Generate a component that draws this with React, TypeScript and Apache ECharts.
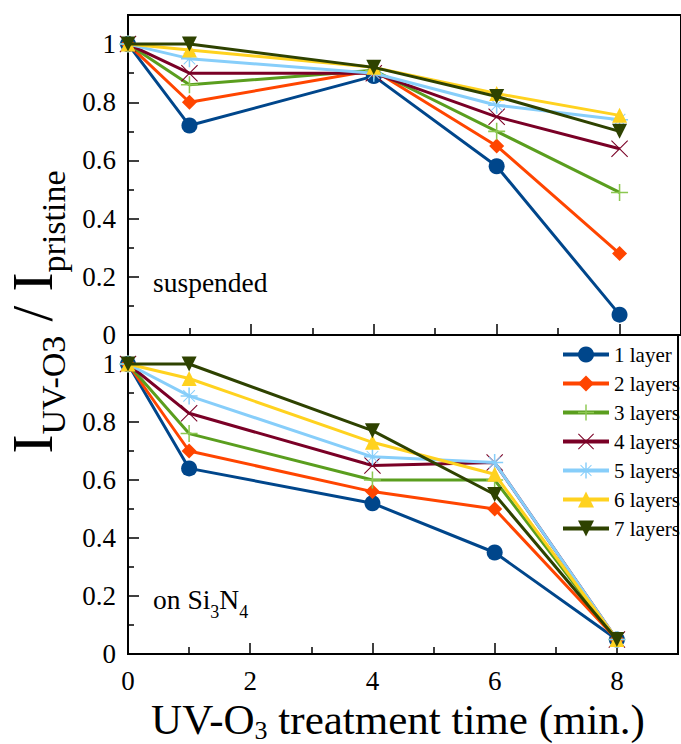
import React, { useEffect, useRef } from "react";
import * as echarts from "echarts";

const timeMin = [0, 1, 4, 6, 8];
const layerNames = ["1 layer", "2 layers", "3 layers", "4 layers", "5 layers", "6 layers", "7 layers"];

const suspended1 = [1.0, 0.72, 0.89, 0.58, 0.07];
const suspended2 = [1.0, 0.8, 0.91, 0.65, 0.28];
const suspended3 = [1.0, 0.86, 0.91, 0.7, 0.49];
const suspended4 = [1.0, 0.9, 0.9, 0.75, 0.64];
const suspended5 = [1.0, 0.95, 0.9, 0.79, 0.74];
const suspended6 = [1.0, 0.98, 0.92, 0.83, 0.755];
const suspended7 = [1.0, 1.0, 0.92, 0.82, 0.7];

const onSiN1 = [1.0, 0.64, 0.52, 0.35, 0.05];
const onSiN2 = [1.0, 0.7, 0.56, 0.5, 0.05];
const onSiN3 = [1.0, 0.76, 0.6, 0.6, 0.05];
const onSiN4 = [1.0, 0.83, 0.65, 0.66, 0.05];
const onSiN5 = [1.0, 0.89, 0.68, 0.66, 0.05];
const onSiN6 = [1.0, 0.95, 0.73, 0.62, 0.05];
const onSiN7 = [1.0, 1.0, 0.77, 0.55, 0.05];

const suspendedSeries = [suspended1, suspended2, suspended3, suspended4, suspended5, suspended6, suspended7];
const onSiNSeries = [onSiN1, onSiN2, onSiN3, onSiN4, onSiN5, onSiN6, onSiN7];

const lineColors = ["#00468b", "#ff4500", "#5a9e1e", "#7a0026", "#87cefa", "#ffd21f", "#2e4200"];
const markColors = ["#00468b", "#ff4500", "#8cc850", "#7a0026", "#87cefa", "#ffd21f", "#2e4200"];

const PLUS = "M-1,-0.09L1,-0.09L1,0.09L-1,0.09Z M-0.09,-1L0.09,-1L0.09,1L-0.09,1Z";
const CROSS = "M-1,-0.91L-0.91,-1L1,0.91L0.91,1Z M0.91,-1L1,-0.91L-0.91,1L-1,0.91Z";
const STAR =
  PLUS +
  " M-0.72,-0.64L-0.64,-0.72L0.72,0.64L0.64,0.72Z M0.64,-0.72L0.72,-0.64L-0.64,0.72L-0.72,0.64Z";

const symbols = ["circle", "diamond", "path://" + PLUS, "path://" + CROSS, "path://" + STAR, "triangle", "triangle"];
const symbolSizes = [16, 15, 17, 17, 17, 15, 15];
const symbolRotates = [0, 0, 0, 0, 0, 0, 180];

const FONT = "Liberation Serif";

export default function App() {
  const ref = useRef<HTMLDivElement>(null);
  useEffect(() => {
    if (!ref.current) return;
    const chart = echarts.init(ref.current, undefined, { renderer: "svg" });

    const makeSeries = (panel: number, sets: number[][]) =>
      sets.map((vals, i) => ({
        name: layerNames[i],
        type: "line",
        xAxisIndex: panel,
        yAxisIndex: panel,
        data: timeMin.map((t, j) => [t, vals[j]]),
        symbol: symbols[i],
        symbolSize: symbolSizes[i],
        symbolRotate: symbolRotates[i],
        clip: false,
        z: 2 + i,
        lineStyle: { color: lineColors[i], width: 3 },
        itemStyle: { color: markColors[i], borderWidth: 0 },
        emphasis: { disabled: true },
      }));

    const tickRich = { a: { fontFamily: FONT, fontSize: 27, color: "#000", lineHeight: 24 } };

    const yAxisBase = (grid: number) => ({
      type: "value",
      gridIndex: grid,
      min: 0,
      max: 1.1,
      interval: 0.2,
      axisLine: { show: true, lineStyle: { color: "#000", width: 2 } },
      axisTick: { show: true, inside: true, length: 11, lineStyle: { color: "#000", width: 1.5 } },
      minorTick: { show: true, splitNumber: 2, length: 6, lineStyle: { color: "#000", width: 1.5 } },
      splitLine: { show: false },
      axisLabel: {
        margin: 12,
        rich: tickRich,
        formatter: (v: number) => (v > 1.05 ? "" : "{a|" + String(Math.round(v * 10) / 10) + "}"),
      },
    });

    const xAxisBase = (grid: number, showLabel: boolean) => ({
      type: "value",
      gridIndex: grid,
      min: 0,
      max: 9,
      interval: 2,
      axisLine: { show: true, lineStyle: { color: "#000", width: 2 } },
      axisTick: { show: true, inside: true, length: 11, lineStyle: { color: "#000", width: 1.5 } },
      minorTick: { show: true, splitNumber: 2, length: 7, lineStyle: { color: "#000", width: 1.5 } },
      splitLine: { show: false },
      axisLabel: {
        show: showLabel,
        margin: 15,
        rich: tickRich,
        formatter: (v: number) => (v > 8.5 ? "" : "{a|" + String(v) + "}"),
      },
    });

    chart.setOption({
      animation: false,
      backgroundColor: "#fff",
      grid: [
        { left: 128, top: 15, width: 558, height: 320, show: true, borderColor: "#000", borderWidth: 2, backgroundColor: "transparent" },
        { left: 128, top: 335, width: 558, height: 319, show: true, borderColor: "#000", borderWidth: 2, backgroundColor: "transparent" },
      ],
      xAxis: [xAxisBase(0, false), xAxisBase(1, true)],
      yAxis: [yAxisBase(0), yAxisBase(1)],
      legend: {
        data: layerNames,
        orient: "vertical",
        left: 556,
        top: 339,
        itemWidth: 46,
        itemHeight: 20,
        itemGap: 8,
        itemTextGap: 11,
        selectedMode: false,
        lineStyle: { width: 4 },
        formatter: (name: string) => "{a|" + name + "}",
        textStyle: {
          rich: { a: { fontFamily: FONT, fontSize: 21, color: "#000", lineHeight: 22 } },
        },
      },
      graphic: [
        {
          type: "text",
          x: 33,
          y: 312,
          rotation: Math.PI / 2,
          style: {
            text: "{m|I}{s|UV-O3}{m| / I}{s|pristine}",
            align: "center",
            verticalAlign: "middle",
            fill: "#000",
            rich: {
              m: { fontFamily: FONT, fontSize: 57, lineHeight: 58, verticalAlign: "top", fill: "#000" },
              s: { fontFamily: FONT, fontSize: 34, lineHeight: 34, padding: [32, 0, 0, 0], verticalAlign: "top", fill: "#000" },
            },
          },
        },
        {
          type: "text",
          x: 398,
          y: 698,
          style: {
            text: "{m|UV-O}{s|3}{m| treatment time (min.)}",
            align: "center",
            verticalAlign: "top",
            fill: "#000",
            rich: {
              m: { fontFamily: FONT, fontSize: 43, lineHeight: 38, verticalAlign: "top", fill: "#000" },
              s: { fontFamily: FONT, fontSize: 26, lineHeight: 24, padding: [19, 0, 0, 0], verticalAlign: "top", fill: "#000" },
            },
          },
        },
        {
          type: "text",
          x: 153,
          y: 268,
          style: {
            text: "{m|suspended}",
            verticalAlign: "top",
            fill: "#000",
            rich: { m: { fontFamily: FONT, fontSize: 27.5, lineHeight: 29, verticalAlign: "top", fill: "#000" } },
          },
        },
        {
          type: "text",
          x: 153,
          y: 585,
          style: {
            text: "{m|on Si}{s|3}{m|N}{s|4}",
            verticalAlign: "top",
            fill: "#000",
            rich: {
              m: { fontFamily: FONT, fontSize: 27.5, lineHeight: 29, verticalAlign: "top", fill: "#000" },
              s: { fontFamily: FONT, fontSize: 18, lineHeight: 18, padding: [18, 0, 0, 0], verticalAlign: "top", fill: "#000" },
            },
          },
        },
      ],
      series: [...makeSeries(0, suspendedSeries), ...makeSeries(1, onSiNSeries)],
    });
    return () => chart.dispose();
  }, []);
  return <div ref={ref} style={{ position: "fixed", left: 0, top: 0, width: 681, height: 744 }} />;
}
